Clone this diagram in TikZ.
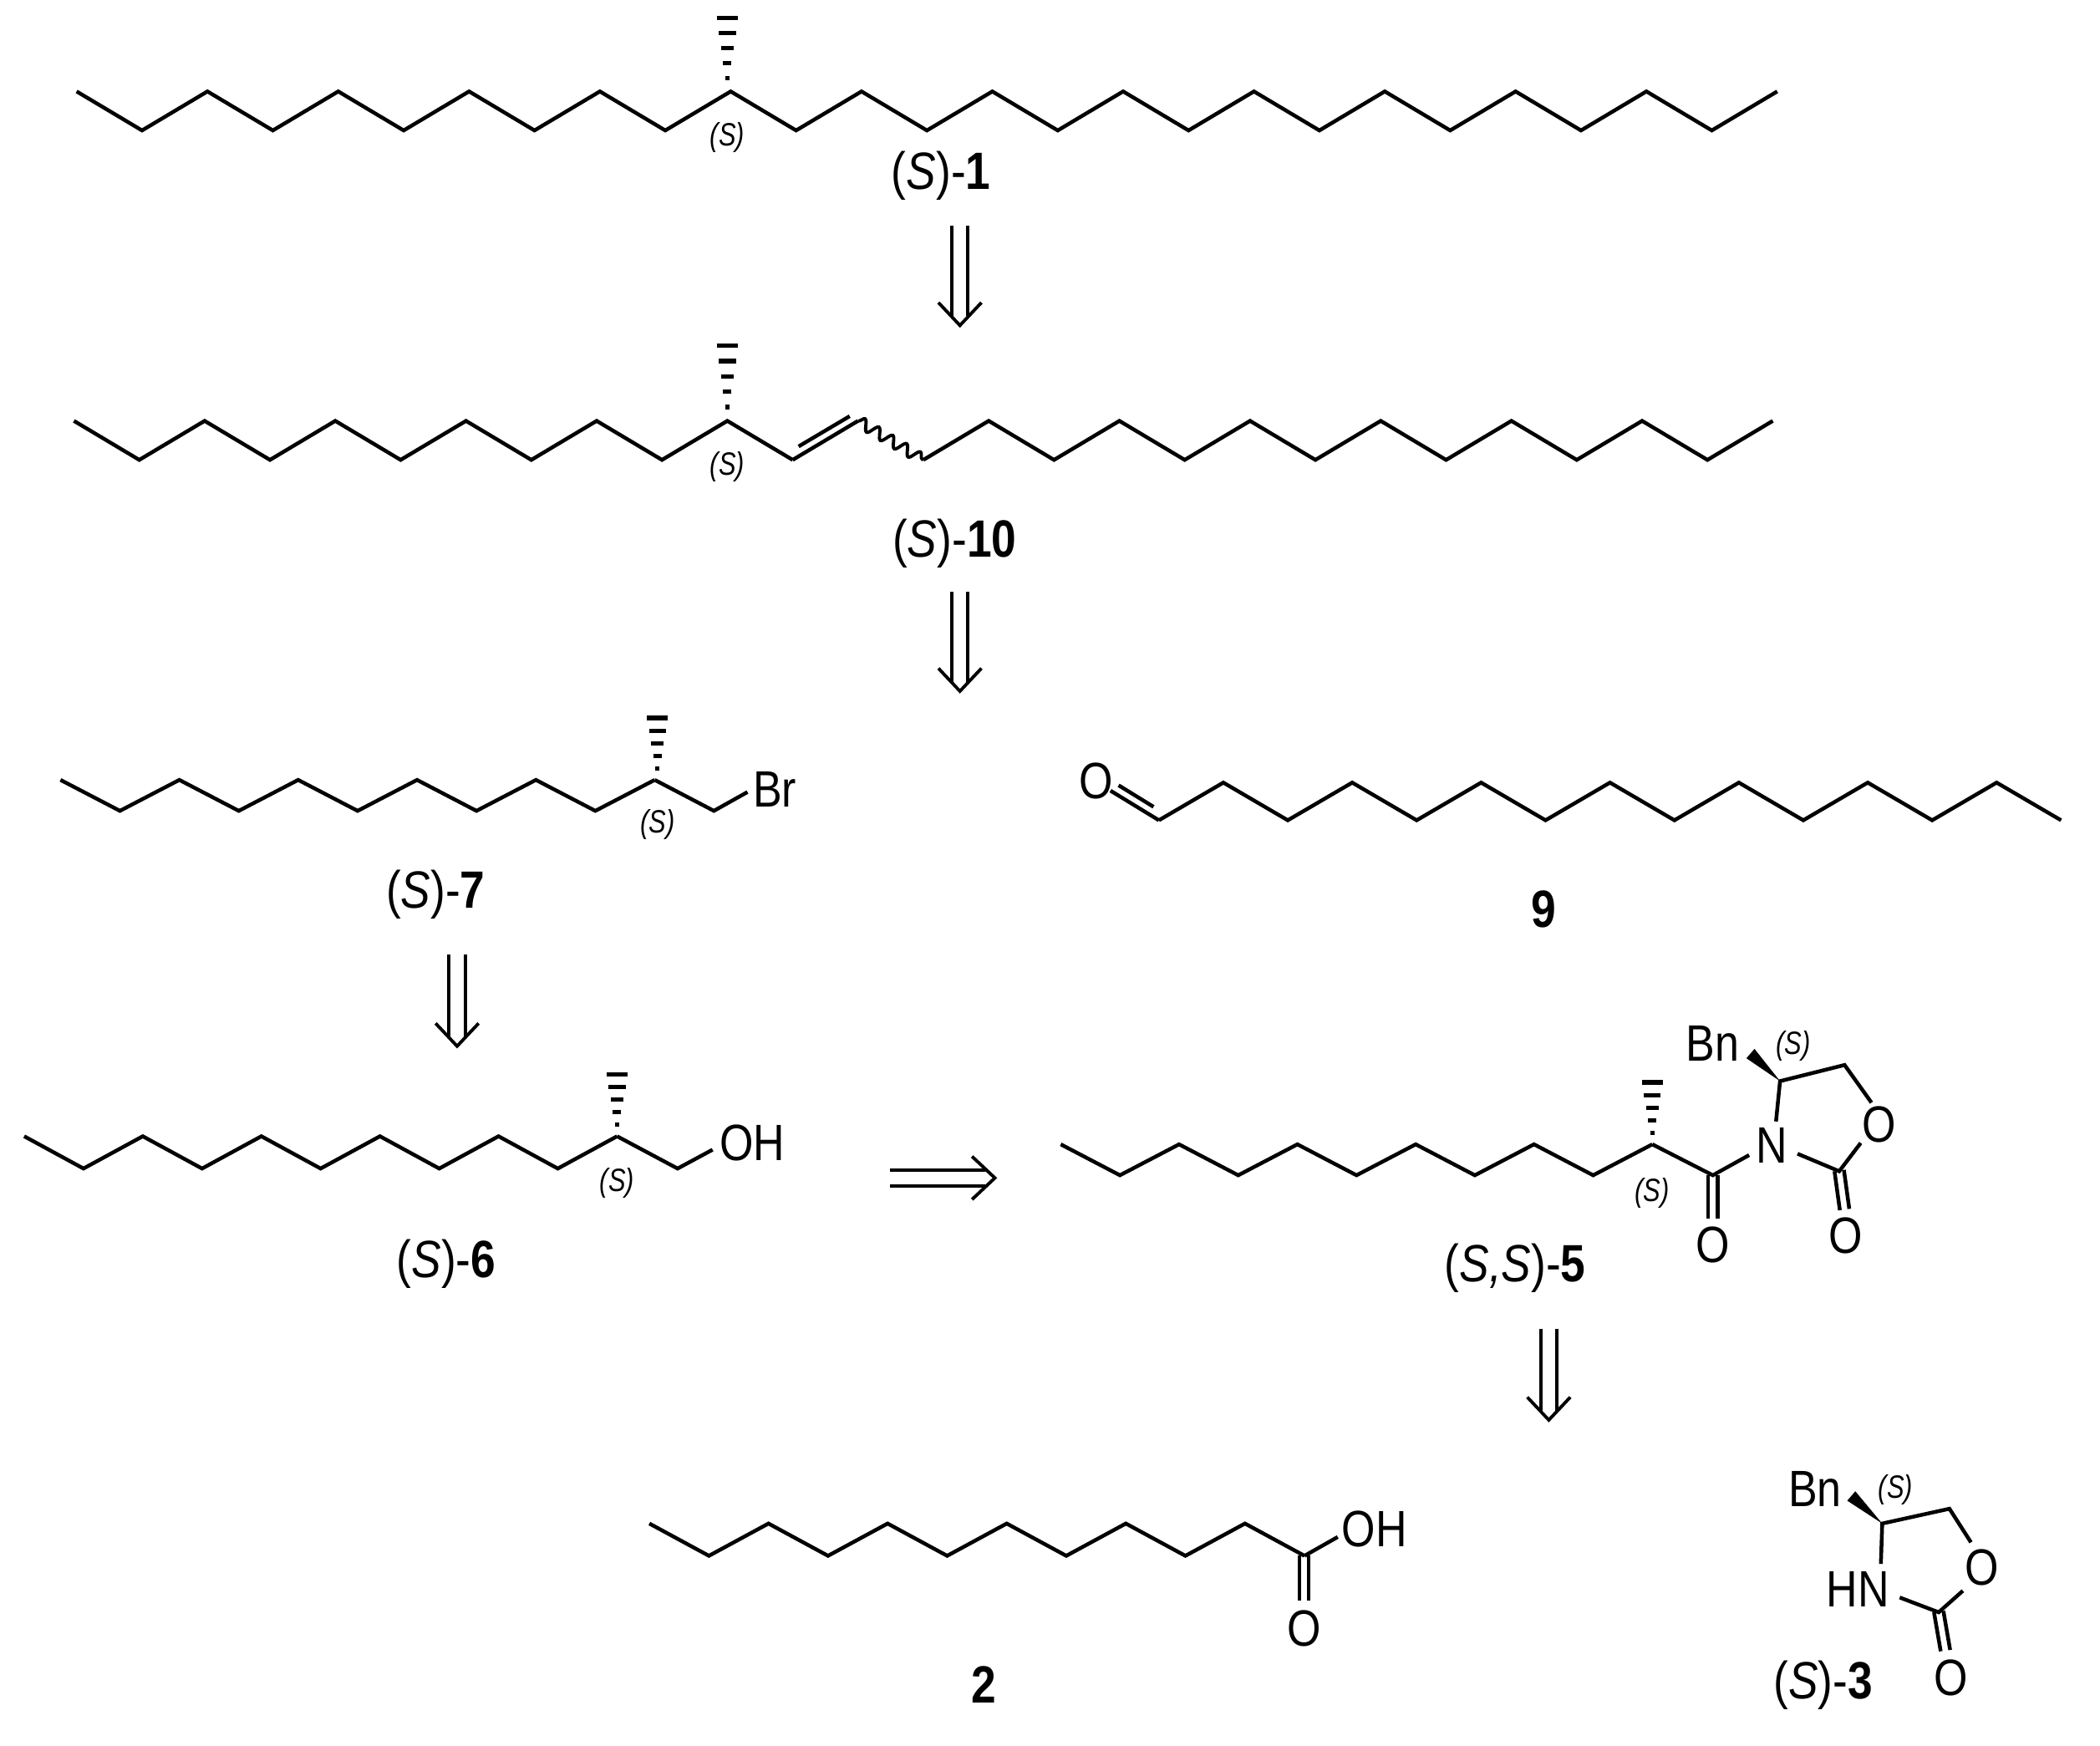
\documentclass[tikz,border=0pt]{standalone}
\usepackage{fontspec}
\setmainfont{Liberation Sans}
\usetikzlibrary{decorations.pathmorphing}
\newcommand{\chain}[5]{\draw[bond] (#1,#3) \foreach \i in {1,...,#5} { -- ({#1+\i*#2},{mod(\i,2)==1 ? #4 : #3}) };}
\newcommand{\hashb}[3]{\foreach \k in {0,...,4} {\draw[line width=3.2pt] ({#1-1.5-\k*1.6},{#2+(#3-#2)*(\k+0.9)/5}) -- ({#1+1.5+\k*1.6},{#2+(#3-#2)*(\k+0.9)/5});}}
\newcommand{\retro}[3]{\draw[arr] (#1-6,#2) -- (#1-6,#3-7) (#1+6,#2) -- (#1+6,#3-7); \draw[arr] (#1-16,#3-17) -- (#1,#3) -- (#1+16,#3-17);}
\tikzset{bond/.style={line width=2.8pt,line join=miter},
 arr/.style={line width=2.4pt},
 atom/.style={font=\fontsize{38}{38}\selectfont,inner sep=0pt,xscale=0.85},
 cmpd/.style={font=\fontsize{39}{39}\selectfont,inner sep=0pt,xscale=0.85},
 ster/.style={font=\fontsize{24}{24}\selectfont\itshape,inner sep=0pt,xscale=0.8}}
\begin{document}
\begin{tikzpicture}[x=1pt,y=-1pt]
\useasboundingbox[fill=white] (0,0) rectangle (1562,1298);
% (S)-1
\chain{57}{48.65}{68}{97}{26}
\hashb{541}{68}{12}
\node[ster] (s1) at (541,102) {(S)};
\node[cmpd] (l1) at (700,131) {(\textit{S})-\textbf{1}};
\retro{714}{168}{242}
% (S)-10
\chain{55}{48.6}{313}{342}{11}
\draw[bond] (589.6,342) -- (638.2,313);
\draw[bond] (594,332) -- (632,309.5);
\draw[line width=2.4pt,decorate,decoration={snake,amplitude=4pt,segment length=12pt}] (638.2,313) -- (686.8,342);
\chain{686.8}{48.6}{342}{313}{13}
\hashb{541}{313}{256}
\node[ster] (s10) at (541,347) {(S)};
\node[cmpd] (l10) at (710,404) {(\textit{S})-\textbf{10}};
\retro{714}{440}{514}
% (S)-7
\chain{45}{44.2}{580}{603}{10}
\draw[bond] (487,580) -- (531,603) -- (556,589);
\node[atom,anchor=west] (br) at (560,587) {Br};
\hashb{489}{580}{533}
\node[ster] (s7) at (489,613) {(S)};
\node[cmpd] (l7) at (324,665) {(\textit{S})-\textbf{7}};
\retro{340}{710}{778}
% 9
\chain{862}{47.93}{610}{582}{14}
\draw[bond] (862,610) -- (826,588);
\draw[bond] (858,600) -- (832,584);
\node[atom] (o9) at (815,581) {O};
\node[cmpd] (l9) at (1148,676) {\textbf{9}};
% (S)-6
\chain{18}{44.1}{845}{869}{10}
\draw[bond] (459,845) -- (504,869) -- (530,855);
\node[atom,anchor=west] (oh6) at (535,850) {OH};
\hashb{459}{845}{798}
\node[ster] (s6) at (459,880) {(S)};
\node[cmpd] (l6) at (332,940) {(\textit{S})-\textbf{6}};
% horizontal retro arrow
\draw[arr] (662,870) -- (733,870) (662,882) -- (733,882);
\draw[arr] (723,860) -- (740,876) -- (723,892);
% (S,S)-5
\chain{789}{44.0}{851}{874}{10}
\hashb{1229}{851}{804}
\node[ster] (s5a) at (1229,887) {(S)};
\draw[bond] (1229,851) -- (1274,874) -- (1301,859);
\draw[bond] (1270.5,874) -- (1270.5,906) (1277.5,874) -- (1277.5,906);
\node[atom] (o5a) at (1274,926) {O};
\node[atom] (n5) at (1318,852) {N};
\draw[bond] (1321,834) -- (1324,804) -- (1372,792) -- (1392,820);
\draw[bond] (1384,850) -- (1368,871) -- (1337,858);
\draw[bond] (1364.5,871) -- (1368.5,900) (1371.5,870) -- (1375.5,899);
\node[atom] (o5r) at (1398,836) {O};
\node[atom] (o5b) at (1373,919) {O};
\fill (1324,804) -- (1299,787) -- (1305,780) -- cycle;
\node[atom] (bn5) at (1274,776) {Bn};
\node[ster] (s5b) at (1334,778) {(S)};
\node[cmpd] (l5) at (1127,943) {(\textit{S,S})-\textbf{5}};
\retro{1152}{988}{1056}
% 2
\chain{483}{44.3}{1133}{1157}{11}
\draw[bond] (970.3,1157) -- (995,1143);
\draw[bond] (966.5,1157) -- (966.5,1190) (973.5,1157) -- (973.5,1190);
\node[atom,anchor=west] (oh2) at (998,1137) {OH};
\node[atom] (o2) at (970,1211) {O};
\node[cmpd] (l2) at (732,1253) {\textbf{2}};
% (S)-3
\draw[bond] (1399,1163) -- (1400,1133) -- (1450,1122) -- (1466,1147);
\draw[bond] (1460,1183) -- (1442,1199) -- (1413,1188);
\draw[bond] (1438.5,1199) -- (1443.5,1228) (1445.5,1198) -- (1450.5,1227);
\fill (1400,1133) -- (1374,1116) -- (1380,1109) -- cycle;
\node[atom] (bn3) at (1350,1107) {Bn};
\node[ster] (s3) at (1410,1108) {(S)};
\node[atom] (hn3) at (1382,1182) {HN};
\node[atom] (o3r) at (1474,1166) {O};
\node[atom] (o3b) at (1451,1248) {O};
\node[cmpd] (l3) at (1356,1253) {(\textit{S})-\textbf{3}};
\end{tikzpicture}
\end{document}
